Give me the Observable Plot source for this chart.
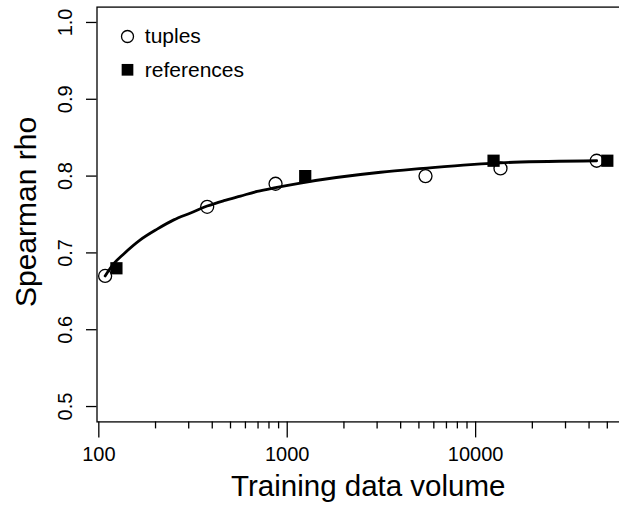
<!DOCTYPE html>
<html><head><meta charset="utf-8">
<script src="https://cdn.jsdelivr.net/npm/d3@7"></script>
<script src="https://cdn.jsdelivr.net/npm/@observablehq/plot@0.6"></script>
<style>html,body{margin:0;padding:0;background:#fff;overflow:hidden}</style>
</head><body><div id="chart"></div>
<script>
const tupleVolume = [108, 376, 867, 5420, 13550, 43900];
const tupleRho = [0.67, 0.76, 0.79, 0.80, 0.81, 0.82];
const refVolume = [124, 1246, 12450, 50000];
const refRho = [0.68, 0.80, 0.82, 0.82];
const curveVolume = [108, 120, 136, 166, 204, 250, 307, 376, 461, 565, 693, 867, 1175, 3130, 5280, 9400, 15900, 43900];
const curveRho = [0.670, 0.686, 0.699, 0.717, 0.731, 0.743, 0.752, 0.761, 0.768, 0.774, 0.780, 0.785, 0.791, 0.805, 0.810, 0.815, 0.818, 0.820];
const xMajorTicks = [100, 1000, 10000];
const xMinorTicks = [200, 300, 400, 500, 600, 700, 800, 900, 2000, 3000, 4000, 5000, 6000, 7000, 8000, 9000, 20000, 30000, 40000, 50000, 60000, 70000];
const yTicks = [0.5, 0.6, 0.7, 0.8, 0.9, 1.0];
const legendLabels = ["tuples", "references"];
const xLabel = "Training data volume";
const yLabel = "Spearman rho";

const tuples = tupleVolume.map((v, i) => ({volume: v, rho: tupleRho[i]}));
const refs = refVolume.map((v, i) => ({volume: v, rho: refRho[i]}));
const curve = curveVolume.map((v, i) => ({volume: v, rho: curveRho[i]}));

const font = "'Liberation Sans', Arial, Helvetica, sans-serif";
const chart = Plot.plot({
  width: 619, height: 509,
  marginLeft: 96.5, marginRight: -20, marginTop: 6.6, marginBottom: 87.6,
  style: {fontFamily: font, background: "white", overflow: "hidden", color: "black"},
  x: {type: "log", domain: [97.8, 74100]},
  y: {domain: [0.48, 1.02]},
  marks: [
    Plot.axisX({ticks: xMajorTicks, tickSize: 16, tickPadding: 9, fontSize: 20, tickFormat: d => String(d), strokeWidth: 1.3, label: null}),
    Plot.axisX({ticks: xMinorTicks, tickSize: 7, tickFormat: () => "", strokeWidth: 1.3, label: null}),
    Plot.axisY({ticks: yTicks, tickSize: 10.5, tickFormat: () => "", strokeWidth: 1.3, label: null}),
    Plot.text(yTicks, {y: d => d, text: d => d.toFixed(1), frameAnchor: "left", rotate: -90, dx: -31.8, fontSize: 20, lineAnchor: "middle", textAnchor: "middle"}),
    Plot.frame({stroke: "black", strokeWidth: 1.3}),
    Plot.dot(tuples, {x: "volume", y: "rho", r: 6.5, stroke: "black", fill: "none", strokeWidth: 1.3}),
    Plot.dot(refs, {x: "volume", y: "rho", r: 6.9, symbol: "square", fill: "black", stroke: "none"}),
    Plot.line(curve, {x: "volume", y: "rho", curve: "monotone-x", stroke: "black", strokeWidth: 2.8}),
    Plot.dot([legendLabels[0]], {frameAnchor: "top-left", dx: 30.5, dy: 29.4, r: 6, stroke: "black", fill: "none", strokeWidth: 1.3}),
    Plot.dot([legendLabels[1]], {frameAnchor: "top-left", dx: 30.5, dy: 62.7, r: 6.6, symbol: "square", fill: "black", stroke: "none"}),
    Plot.text([legendLabels[0]], {frameAnchor: "top-left", dx: 47.8, dy: 29.4, fontSize: 21, textAnchor: "start", lineAnchor: "middle"}),
    Plot.text([legendLabels[1]], {frameAnchor: "top-left", dx: 47.8, dy: 62.7, fontSize: 21, textAnchor: "start", lineAnchor: "middle"}),
    Plot.text([xLabel], {frameAnchor: "bottom", dy: 64.3, fontSize: 29.5, lineAnchor: "middle", textAnchor: "middle"}),
    Plot.text([yLabel], {frameAnchor: "left", rotate: -90, dx: -70.5, dy: -2.5, fontSize: 30, lineAnchor: "middle", textAnchor: "middle"})
  ]
});
document.getElementById("chart").appendChild(chart);
</script>
</body></html>
